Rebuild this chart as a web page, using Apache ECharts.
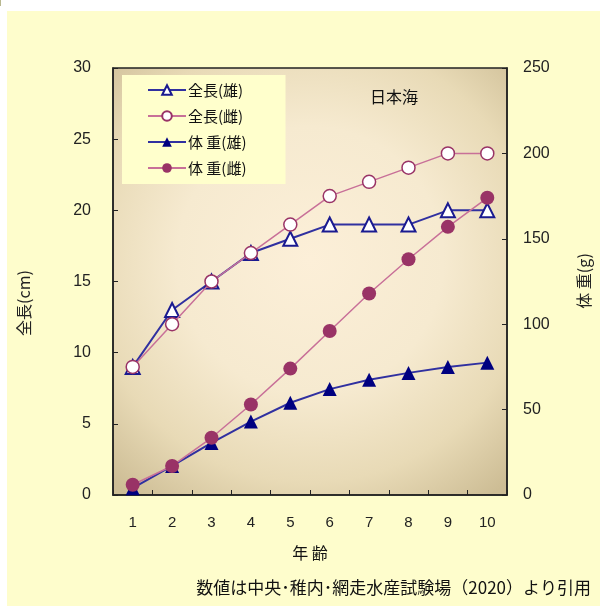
<!DOCTYPE html>
<html><head><meta charset="utf-8">
<script src="https://cdn.jsdelivr.net/npm/echarts@6/dist/echarts.min.js"></script>
<style>html,body{margin:0;padding:0;background:#fff;}#c{width:600px;height:606px;}</style>
</head><body><div id="c"></div>
<script>
const ages = ['1','2','3','4','5','6','7','8','9','10'];
const lenMale = [9, 13, 15, 17, 18, 19, 19, 19, 20, 20];
const lenFemale = [9, 12, 15, 17, 19, 21, 22, 23, 24, 24];
const wtMale = [4, 17, 30.5, 43, 54, 62, 67.5, 71.5, 75, 77.5];
const wtFemale = [6, 17, 33.5, 53, 74, 96, 118, 138, 157, 174];
const seriesNames = ['全長(雄)', '全長(雌)', '体 重(雄)', '体 重(雌)'];

const FONT = '"Noto Sans CJK JP", "Liberation Sans", sans-serif';
const NUMFONT = '"Liberation Sans", "DejaVu Sans", sans-serif';
const BLUE = '#000080', BLUE_LINE = '#3030a0';
const PLUM = '#993366', PLUM_LINE = '#c87098';

const chart = echarts.init(document.getElementById('c'), null, {renderer: 'canvas'});
chart.setOption({
  backgroundColor: '#ffffff',
  animation: false,
  graphic: [
    {type: 'rect', shape: {x: 7, y: 11, width: 593, height: 595}, style: {fill: '#fefdcc'}, z: -10},
    {type: 'rect', shape: {x: 0, y: 0, width: 1, height: 6}, style: {fill: '#b8b890'}, z: -10},
    {type: 'text', left: 370, top: 89, style: {text: '日本海', font: '16px ' + FONT, fill: '#111'}, z: 10},
    {type: 'text', x: 24, y: 303, rotation: Math.PI / 2, style: {text: '全長(cm)', font: '16px ' + FONT, fill: '#222', align: 'center', verticalAlign: 'middle'}},
    {type: 'text', x: 584, y: 281, rotation: Math.PI / 2, style: {text: '体 重(g)', font: '16px ' + FONT, fill: '#222', align: 'center', verticalAlign: 'middle'}},
    {type: 'text', x: 310, y: 553, style: {text: '年 齢', font: '16px ' + FONT, fill: '#111', align: 'center', verticalAlign: 'middle'}},
    {type: 'text', x: 591, y: 588, style: {text: '数値は中央･稚内･網走水産試験場（2020）より引用', font: '17px ' + FONT, fill: '#111', align: 'right', verticalAlign: 'middle'}}
  ],
  grid: {
    left: 113, right: 93, top: 68, bottom: 111,
    show: true,
    borderColor: '#222', borderWidth: 1.5,
    backgroundColor: {
      type: 'radial', x: 0.5, y: 0.45, r: 0.75,
      colorStops: [
        {offset: 0, color: '#fcefd8'},
        {offset: 0.45, color: '#f6ead0'},
        {offset: 0.75, color: '#e8dab6'},
        {offset: 1, color: '#cdbd95'}
      ]
    }
  },
  legend: {
    left: 122, top: 75,
    orient: 'vertical',
    data: seriesNames,
    backgroundColor: '#ffffcc',
    padding: [6, 39, 7, 25],
    itemWidth: 38, itemHeight: 12, itemGap: 8,
    textStyle: {fontFamily: FONT, fontSize: 15, color: '#111', lineHeight: 18, padding: [0, 0, 0, -3]}
  },
  xAxis: {
    type: 'category', data: ages, boundaryGap: true,
    axisLine: {lineStyle: {color: '#222', width: 1.5}},
    axisTick: {show: true, inside: true, length: 5, lineStyle: {color: '#222'}},
    axisLabel: {margin: 20, fontFamily: NUMFONT, fontSize: 15, color: '#222'}
  },
  yAxis: [
    {
      type: 'value', min: 0, max: 30, interval: 5, position: 'left',
      axisLine: {show: true, lineStyle: {color: '#222', width: 1.5}},
      axisTick: {show: true, inside: true, length: 5, lineStyle: {color: '#222'}},
      axisLabel: {margin: 22, fontFamily: NUMFONT, fontSize: 16, color: '#222'},
      splitLine: {show: false}
    },
    {
      type: 'value', min: 0, max: 250, interval: 50, position: 'right',
      axisLine: {show: true, lineStyle: {color: '#222', width: 1.5}},
      axisTick: {show: true, inside: true, length: 5, lineStyle: {color: '#222'}},
      axisLabel: {margin: 16, fontFamily: NUMFONT, fontSize: 16, color: '#222'},
      splitLine: {show: false}
    }
  ],
  series: [
    {
      name: seriesNames[0], type: 'line', yAxisIndex: 0, data: lenMale,
      symbol: 'triangle', symbolSize: 14,
      lineStyle: {color: BLUE_LINE, width: 2},
      itemStyle: {color: '#ffffff', borderColor: '#1a1a90', borderWidth: 2}, z: 3
    },
    {
      name: seriesNames[1], type: 'line', yAxisIndex: 0, data: lenFemale,
      symbol: 'circle', symbolSize: 13,
      lineStyle: {color: PLUM_LINE, width: 1.5},
      itemStyle: {color: '#ffffff', borderColor: PLUM, borderWidth: 1.5}, z: 4
    },
    {
      name: seriesNames[2], type: 'line', yAxisIndex: 1, data: wtMale,
      symbol: 'triangle', symbolSize: 14,
      lineStyle: {color: BLUE_LINE, width: 2},
      itemStyle: {color: BLUE, borderColor: BLUE, borderWidth: 0}, z: 3
    },
    {
      name: seriesNames[3], type: 'line', yAxisIndex: 1, data: wtFemale,
      symbol: 'circle', symbolSize: 14,
      lineStyle: {color: PLUM_LINE, width: 1.5},
      itemStyle: {color: PLUM, borderColor: PLUM, borderWidth: 0}, z: 4
    }
  ]
});
</script></body></html>
